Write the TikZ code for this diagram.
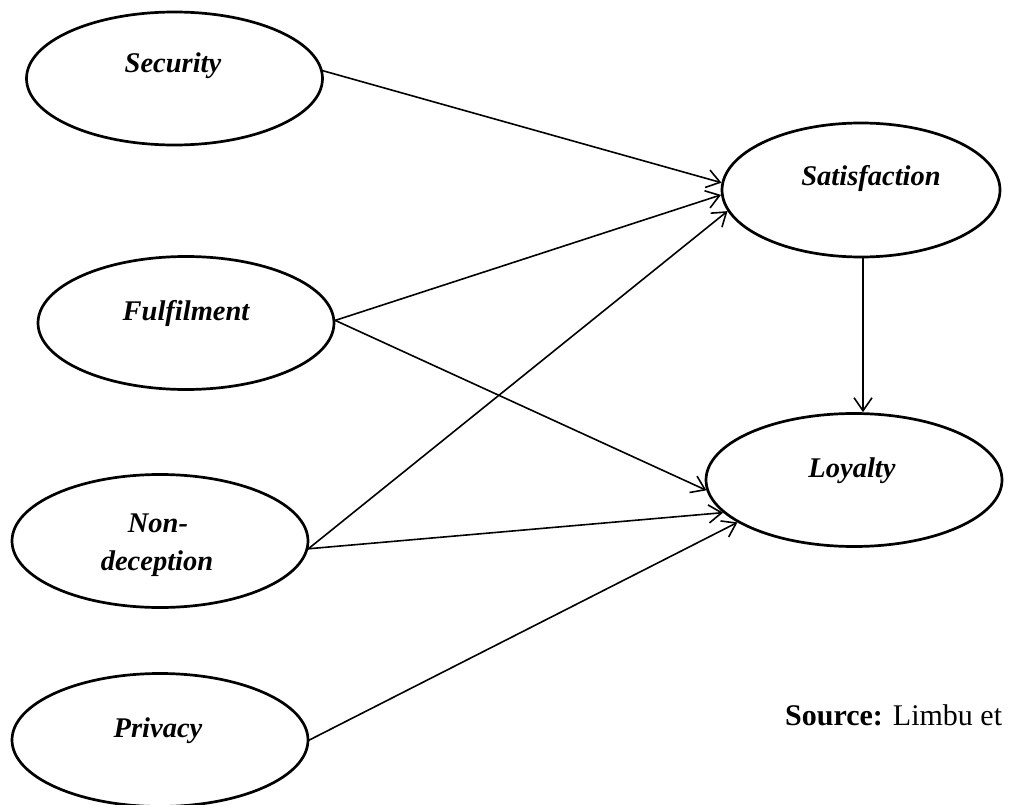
\documentclass[tikz,border=0pt]{standalone}
\usepackage{fontspec}
\setmainfont{Liberation Serif}
\usetikzlibrary{shapes.geometric,arrows.meta}
\tikzset{
  construct/.style={draw, ellipse, line width=2.7pt, inner sep=0pt, minimum width=296pt, minimum height=133pt},
  lbl/.style={anchor=base, inner sep=0pt, font=\fontsize{28.5pt}{34pt}\selectfont\bfseries\itshape},
  arr/.style={-{Straight Barb[length=13pt,width=18pt,line width=1.6pt]}, line width=1.6pt, shorten <=-1pt}
}
\begin{document}
\begin{tikzpicture}[x=1pt,y=-1pt]
\useasboundingbox (0,0) rectangle (1012,805);
% ellipses
\node[construct] (sec) at (174.5,78.5) {};
\node[construct, minimum width=278pt, minimum height=134pt] (sat) at (861,190) {};
\node[construct] (ful) at (186,323) {};
\node[construct] (loy) at (854,480) {};
\node[construct] (non) at (160,541) {};
\node[construct] (pri) at (160,740) {};
% labels
\node[lbl] (secT) at (173,73) {Security};
\node[lbl] (satT) at (871,186) {Satisfaction};
\node[lbl] (fulT) at (186,320) {Fulfilment};
\node[lbl] (loyT) at (852,477) {Loyalty};
\node[lbl] (nonT) at (158,532) {Non-};
\node[lbl] (nonT2) at (157,570) {deception};
\node[lbl] (priT) at (158,737) {Privacy};
% connectors
\draw[arr] (sec.3.7) -- (sat.177.5);
\draw[arr] (ful.1.9) -- (sat.182.9);
\draw[arr] (non.-3.1) -- (sat.189);
\draw[arr] (ful.1.9) -- (loy.184.6);
\draw[arr] (non.-3.1) -- (loy.194);
\draw[arr] (pri.-0.8) -- (loy.200.7);
\coordinate (satB) at ([xshift=2pt]sat.south);
\draw[arr] (satB) -- (satB |- loy.north);
% source
\node[anchor=base west, inner sep=0pt, font=\fontsize{30pt}{36pt}\selectfont] (src) at (785,725) {\textbf{Source:} Limbu et};
\end{tikzpicture}
\end{document}
